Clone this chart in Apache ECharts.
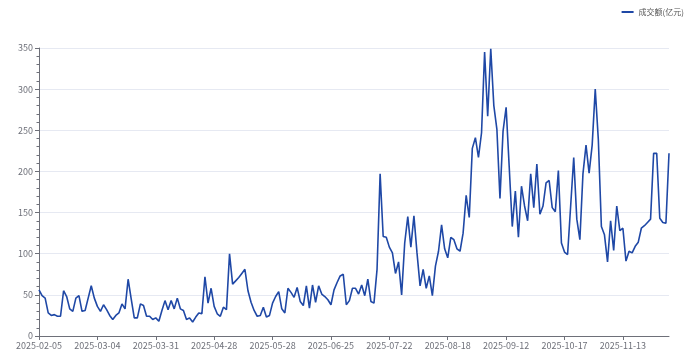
<!DOCTYPE html>
<html>
<head>
<meta charset="utf-8">
<script src="https://cdn.jsdelivr.net/npm/echarts@6/dist/echarts.min.js"></script>
<style>
html,body{margin:0;padding:0;background:#fff;}
#chart{width:692px;height:362px;}
</style>
</head>
<body>
<div id="chart"></div>
<script>
// Trading days (2025), month by month
const year = 2025;
const tradingDays = [
  ['02', [5,6,7,10,11,12,13,14,17,18,19,20,21,24,25,26,27,28]],
  ['03', [3,4,5,6,7,10,11,12,13,14,17,18,19,20,21,24,25,26,27,28,31]],
  ['04', [1,2,3,7,8,9,10,11,14,15,16,17,18,21,22,23,24,25,28,29,30]],
  ['05', [6,7,8,9,12,13,14,15,16,19,20,21,22,23,26,27,28,29,30]],
  ['06', [3,4,5,6,9,10,11,12,13,16,17,18,19,20,23,24,25,26,27,30]],
  ['07', [1,2,3,4,7,8,9,10,11,14,15,16,17,18,21,22,23,24,25,28,29,30,31]],
  ['08', [1,4,5,6,7,8,11,12,13,14,15,18,19,20,21,22,25,26,27,28,29]],
  ['09', [1,2,3,4,5,8,9,10,11,12,15,16,17,18,19,22,23,24,25,26,29,30]],
  ['10', [9,10,13,14,15,16,17,20,21,22,23,24,27,28,29,30,31]],
  ['11', [3,4,5,6,7,10,11,12,13,14,17,18,19,20,21,24,25,26,27,28]],
  ['12', [1,2,3,4]]
];
const categories = [];
tradingDays.forEach(([m, days]) => days.forEach(d => categories.push(year + '-' + m + '-' + String(d).padStart(2,'0'))));

const seriesName = '成交额(亿元)';
const turnover = [
  56,49,46,28,25,26,24,24,55,48,
  33,30,46,49,30,31,46,61,46,36,
  30,38,32,25,20,25,28,39,33,69,
  45,22,22,39,37,24,24,20,22,18,
  31,43,32,43,33,46,33,31,20,22,
  17,23,28,27,72,40,58,36,27,24,
  35,32,100,63,67,71,76,81,55,41,
  31,24,25,35,23,25,40,48,54,33,
  28,58,53,47,59,42,37,61,34,62,
  41,61,51,48,44,38,56,65,73,75,
  38,43,58,58,51,62,49,69,42,40,
  81,197,121,120,108,101,76,90,50,113,
  145,108,146,101,61,81,58,73,49,85,
  103,135,106,95,120,117,106,103,125,171,
  144,228,241,217,247,345,267,349,280,251,
  167,249,278,206,133,176,120,182,158,140,
  197,156,209,148,158,186,189,156,151,201,
  113,102,99,158,217,142,117,197,232,198,
  232,300,239,133,123,90,140,104,158,128,
  131,91,103,101,109,114,131,134,138,142,
  222,222,143,138,137,222
];
const yTicks = {min: 0, max: 350, interval: 50};

const chart = echarts.init(document.getElementById('chart'), null, {renderer: 'canvas'});
const axisGrey = '#6e7079';
const lineColor = '#1f48a6';
const font = '"Noto Sans CJK SC", "Noto Sans", sans-serif';
chart.setOption({
  animation: false,
  backgroundColor: '#ffffff',
  legend: {
    right: 3, top: 3,
    icon: 'rect',
    itemWidth: 12, itemHeight: 2,
    itemGap: 10,
    itemStyle: {color: lineColor},
    textStyle: {fontSize: 8, color: '#555', fontFamily: font},
    data: [seriesName]
  },
  grid: {left: 39, right: 23, top: 48, bottom: 26, containLabel: false},
  xAxis: {
    type: 'category',
    data: categories,
    boundaryGap: false,
    axisLine: {lineStyle: {color: axisGrey}},
    axisTick: {interval: 18, length: 4, lineStyle: {color: axisGrey}},
    axisLabel: {interval: 18, fontSize: 9, color: '#6e7079', margin: 5, fontFamily: font}
  },
  yAxis: {
    type: 'value',
    min: yTicks.min, max: yTicks.max, interval: yTicks.interval,
    axisLine: {show: true, lineStyle: {color: axisGrey}},
    axisTick: {show: true, length: 4, lineStyle: {color: axisGrey}},
    minorTick: {show: true, splitNumber: 5, length: 2.5, lineStyle: {color: axisGrey}},
    axisLabel: {fontSize: 9, color: '#6e7079', margin: 6, fontFamily: font},
    splitLine: {lineStyle: {color: '#e6e9f2'}}
  },
  series: [{
    name: seriesName,
    type: 'line',
    data: turnover,
    symbol: 'none',
    lineStyle: {color: lineColor, width: 1.6},
    itemStyle: {color: lineColor}
  }]
});
</script>
</body>
</html>
